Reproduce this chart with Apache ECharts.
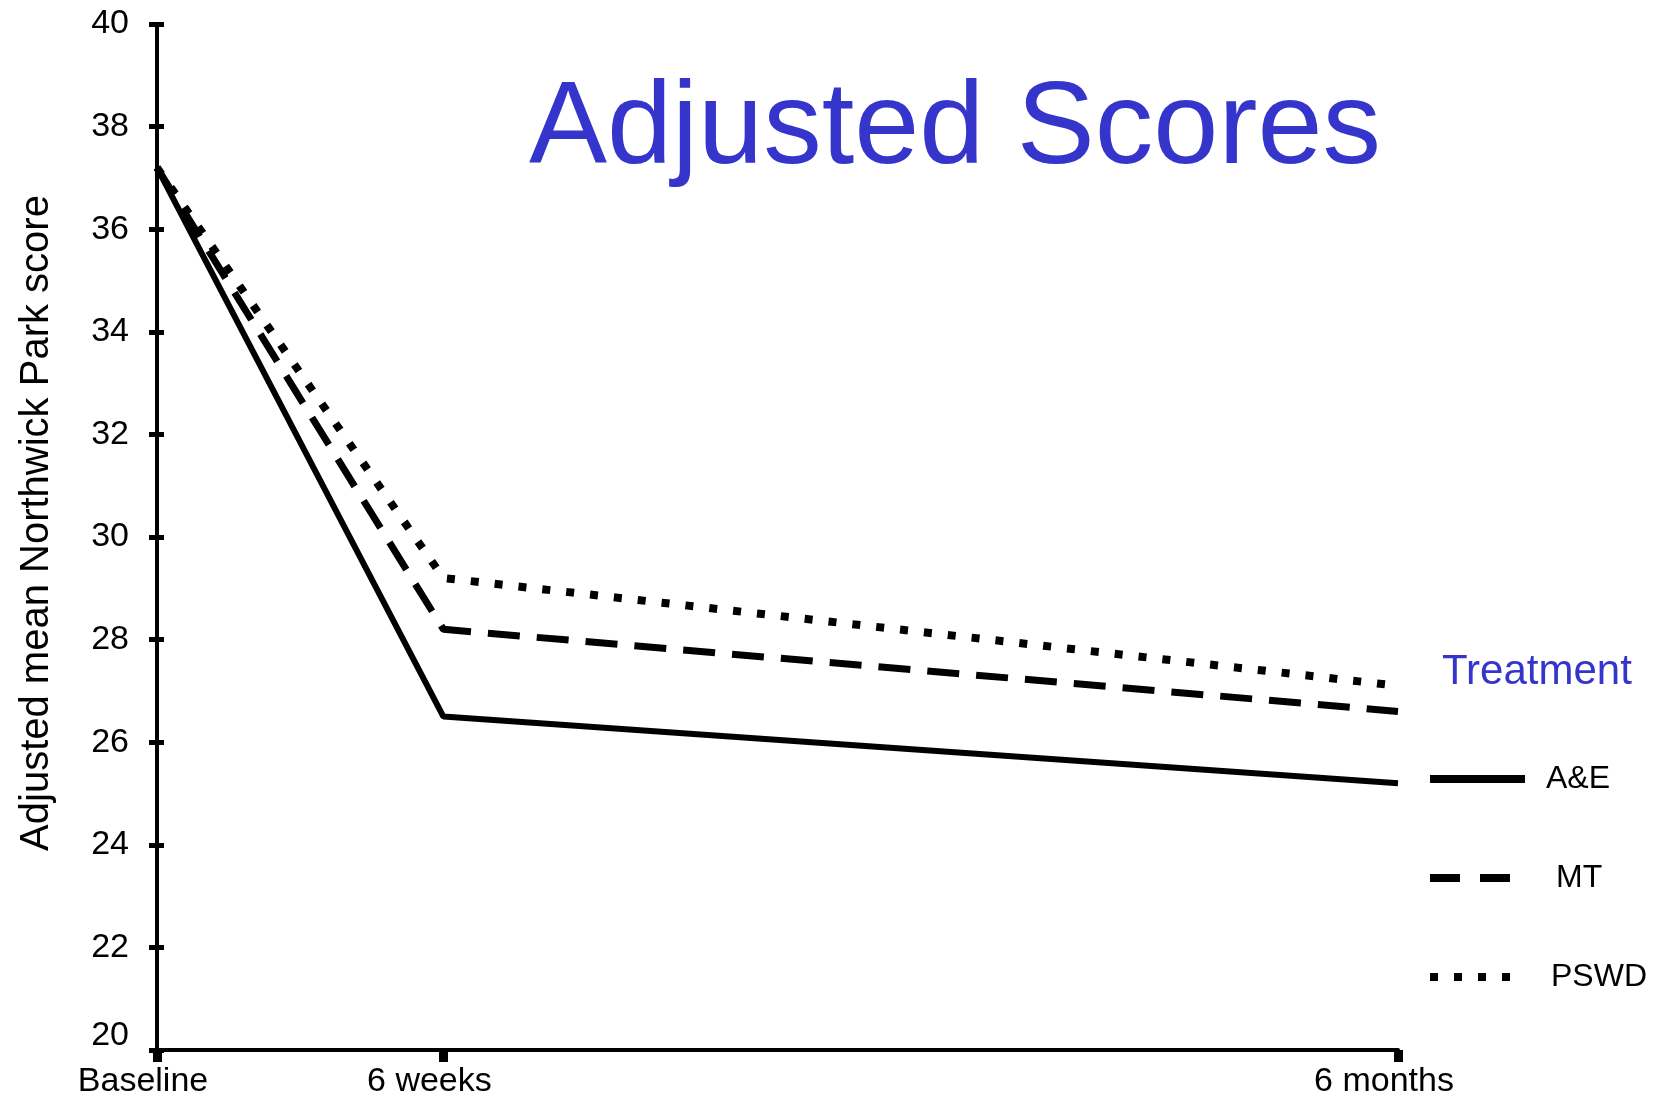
<!DOCTYPE html>
<html>
<head>
<meta charset="utf-8">
<script src="https://cdn.jsdelivr.net/npm/echarts@6/dist/echarts.min.js"></script>
<style>
html,body{margin:0;padding:0;background:#fff;}
#chart{width:1656px;height:1100px;}
</style>
</head>
<body>
<div id="chart"></div>
<script>
// time points in weeks (Baseline, 6 weeks, 6 months ≈ 26 weeks)
const timeWeeks = [0, 6, 26];
const timeLabels = ['Baseline', '6 weeks', '6 months'];
const seriesNames = ['A&E', 'MT', 'PSWD'];
const aeValues = [37.2, 26.5, 25.2];
const mtValues = [37.2, 28.2, 26.6];
const pswdValues = [37.2, 29.2, 27.1];
const yTicks = [20, 22, 24, 26, 28, 30, 32, 34, 36, 38, 40];

const FONT = 'Liberation Sans, Arial, sans-serif';
const BLUE = '#3535CC';

function pairs(vals) { return timeWeeks.map((w, i) => [w, vals[i]]); }

const chart = echarts.init(document.getElementById('chart'));
const dashStyles = ['solid', [32, 17], [8, 16]];
const widths = [6, 7, 8];
const allVals = [aeValues, mtValues, pswdValues];

const option = {
  backgroundColor: '#fff',
  animation: false,
  title: [
    { text: 'Adjusted Scores', left: 524, top: 67,
      textStyle: { fontFamily: FONT, fontSize: 117, fontWeight: 'normal', color: BLUE } },
    { text: 'Treatment', left: 1437, top: 646,
      textStyle: { fontFamily: FONT, fontSize: 42, fontWeight: 'normal', color: BLUE } }
  ],
  grid: { left: 157, right: 258, top: 24, bottom: 50, containLabel: false },
  legend: {
    orient: 'vertical', left: 1425, top: 758,
    itemWidth: 95, itemHeight: 8, itemGap: 67,
    textStyle: { fontFamily: FONT, fontSize: 32, color: '#000', padding: [0, 0, 0, 16] },
    data: [
      { name: 'A&E', icon: 'rect' },
      { name: 'MT', icon: 'path://M0,0h30v8h-30zM50,0h30v8h-30zM95,0L95,8Z',
        textStyle: { padding: [0, 0, 0, 26] } },
      { name: 'PSWD', icon: 'path://M0,0h8v8h-8zM24,0h8v8h-8zM48,0h8v8h-8zM72,0h8v8h-8zM95,0L95,8Z',
        textStyle: { padding: [0, 0, 0, 21] } }
    ]
  },
  xAxis: {
    type: 'value', min: 0, max: 26,
    axisLine: { show: true, lineStyle: { color: '#000', width: 4 } },
    axisTick: { show: true, customValues: timeWeeks, length: 12, inside: false,
      lineStyle: { color: '#000', width: 9 } },
    axisLabel: { customValues: timeWeeks, margin: 15,
      formatter: v => timeLabels[timeWeeks.indexOf(v)] || '',
      fontFamily: FONT, fontSize: 34, color: '#000', padding: [0, 28, 0, 0] },
    splitLine: { show: false }
  },
  yAxis: [
    {
      type: 'value', min: 20, max: 40, interval: 2,
      name: 'Adjusted mean Northwick Park score', nameLocation: 'middle', nameGap: 100,
      nameTextStyle: { fontFamily: FONT, fontSize: 40, color: '#000', padding: [0, 0, 0, 28] },
      axisLine: { show: true, lineStyle: { color: '#000', width: 4 } },
      axisTick: { show: true, length: 8, inside: false, lineStyle: { color: '#000', width: 5 } },
      axisLabel: { margin: 28, fontFamily: FONT, fontSize: 34, color: '#000',
        formatter: v => (v === 20 ? '{low|20}' : String(v)),
        rich: { low: { fontFamily: FONT, fontSize: 34, color: '#000', padding: [0, 0, 28, 0] } } },
      splitLine: { show: false }
    },
    {
      type: 'value', min: 20, max: 40, interval: 2, position: 'left',
      axisLine: { show: false },
      axisTick: { show: true, length: 7, inside: true, lineStyle: { color: '#000', width: 5 } },
      axisLabel: { show: false },
      splitLine: { show: false }
    }
  ],
  series: seriesNames.map((n, i) => ({
    name: n, type: 'line', yAxisIndex: 0, symbol: 'none', smooth: false,
    data: pairs(allVals[i]),
    lineStyle: { color: '#000', width: widths[i], type: dashStyles[i], cap: 'butt' },
    itemStyle: { color: '#000' }
  }))
};
chart.setOption(option);
</script>
</body>
</html>
